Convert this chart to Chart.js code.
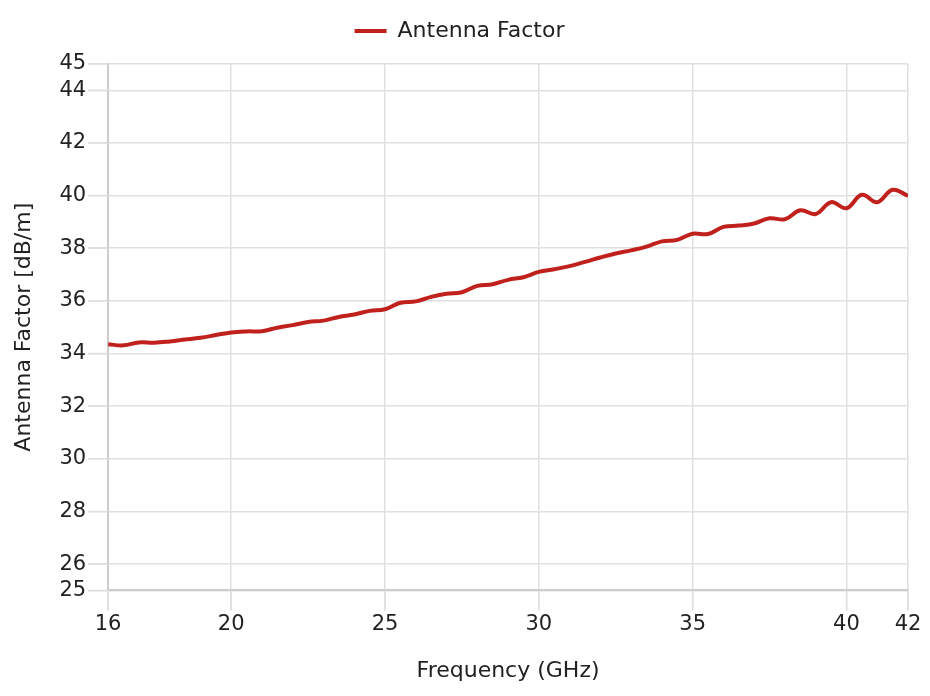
<!DOCTYPE html>
<html>
<head>
<meta charset="utf-8">
<script src="https://cdn.jsdelivr.net/npm/chart.js@4/dist/chart.umd.min.js"></script>
<style>
html,body{margin:0;padding:0;background:#fff;}
#wrap{width:930px;height:696px;position:relative;}
</style>
</head>
<body>
<div id="wrap"><canvas id="c" width="930" height="696"></canvas></div>
<script>
const seriesName = "Antenna Factor";
const frequencies = [16,16.5,17,17.5,18,18.5,19,19.5,20,20.5,21,21.5,22,22.5,23,23.5,24,24.5,25,25.5,26,26.5,27,27.5,28,28.5,29,29.5,30,30.5,31,31.5,32,32.5,33,33.5,34,34.5,35,35.5,36,36.5,37,37.5,38,38.5,39,39.5,40,40.5,41,41.5,42];
const antennaFactor = [34.35,34.31,34.42,34.41,34.46,34.53,34.60,34.70,34.80,34.84,34.85,34.98,35.08,35.20,35.25,35.39,35.48,35.62,35.68,35.93,35.98,36.15,36.27,36.33,36.57,36.63,36.80,36.90,37.10,37.20,37.32,37.48,37.65,37.80,37.92,38.06,38.26,38.32,38.55,38.54,38.81,38.86,38.94,39.14,39.10,39.44,39.30,39.75,39.52,40.03,39.75,40.22,39.99];
const xTicks = [16,20,25,30,35,40,42];
const yTicks = [25,26,28,30,32,34,36,38,40,42,44,45];
const xTitle = "Frequency (GHz)";
const yTitle = "Antenna Factor [dB/m]";

const FONT = "'DejaVu Sans', sans-serif";
const TXT = '#222';
const GRID = '#e0e0e0';
Chart.defaults.font.family = FONT;
Chart.defaults.color = TXT;

// extra gap below legend
const legendGap = {
  id: 'legendGap',
  beforeLayout(chart) {
    const l = chart.legend;
    if (l && !l._gapPatched) {
      const orig = l.fit;
      l.fit = function() { orig.call(this); this.height += 12; };
      l._gapPatched = true;
    }
  }
};

// outer tick marks along both axes
const outerTicks = {
  id: 'outerTicks',
  afterDraw(chart) {
    const ctx = chart.ctx, xs = chart.scales.x, ys = chart.scales.y, ca = chart.chartArea;
    ctx.save();
    ctx.strokeStyle = GRID; ctx.lineWidth = 1.5;
    ctx.beginPath();
    xTicks.forEach(v => { const p = xs.getPixelForValue(v); ctx.moveTo(p, ca.bottom); ctx.lineTo(p, ca.bottom + 20); });
    yTicks.forEach(v => { const p = ys.getPixelForValue(v); ctx.moveTo(ca.left, p); ctx.lineTo(ca.left - 20, p); });
    ctx.stroke();
    ctx.restore();
  }
};

new Chart(document.getElementById('c'), {
  type: 'line',
  data: {
    datasets: [{
      label: seriesName,
      data: frequencies.map((f,i)=>({x:f,y:antennaFactor[i]})),
      borderColor: '#c0211d',
      backgroundColor: '#c0211d',
      borderWidth: 4,
      pointRadius: 0,
      tension: 0.4,
      fill: false
    }]
  },
  plugins: [legendGap, outerTicks],
  options: {
    responsive: false,
    animation: false,
    layout: {padding: {left: 11, right: 22, top: 8, bottom: 12}},
    plugins: {
      legend: {
        labels: {
          usePointStyle: true,
          pointStyle: 'line',
          pointStyleWidth: 32,
          boxWidth: 32,
          boxHeight: 4,
          font: {size: 22, family: FONT},
          color: TXT,
          padding: 12
        }
      },
      tooltip: {enabled: false}
    },
    scales: {
      x: {
        type: 'linear',
        min: 16, max: 42,
        afterBuildTicks: a => { a.ticks = xTicks.map(v=>({value:v})); },
        ticks: {font:{size:21, family: FONT}, color: TXT, padding: 2, autoSkip:false, maxRotation:0},
        grid: {color:GRID, lineWidth:1.5, drawTicks:true, tickLength: 20, tickColor:GRID, tickWidth:1.5},
        border: {color:'#cccccc', width:2},
        title: {display:true, text:xTitle, font:{size:22, family: FONT}, color: TXT, padding:{top:18,bottom:0}}
      },
      y: {
        min: 25, max: 45,
        afterBuildTicks: a => { a.ticks = yTicks.map(v=>({value:v})); },
        ticks: {font:{size:21, family: FONT}, color: TXT, padding: 2, autoSkip:false},
        grid: {color:GRID, lineWidth:1.5, drawTicks:true, tickLength: 20, tickColor:GRID, tickWidth:1.5},
        border: {color:'#cccccc', width:2},
        title: {display:true, text:yTitle, font:{size:22, family: FONT}, color: TXT, padding:{top:0,bottom:20}}
      }
    }
  }
});
</script>
</body>
</html>
